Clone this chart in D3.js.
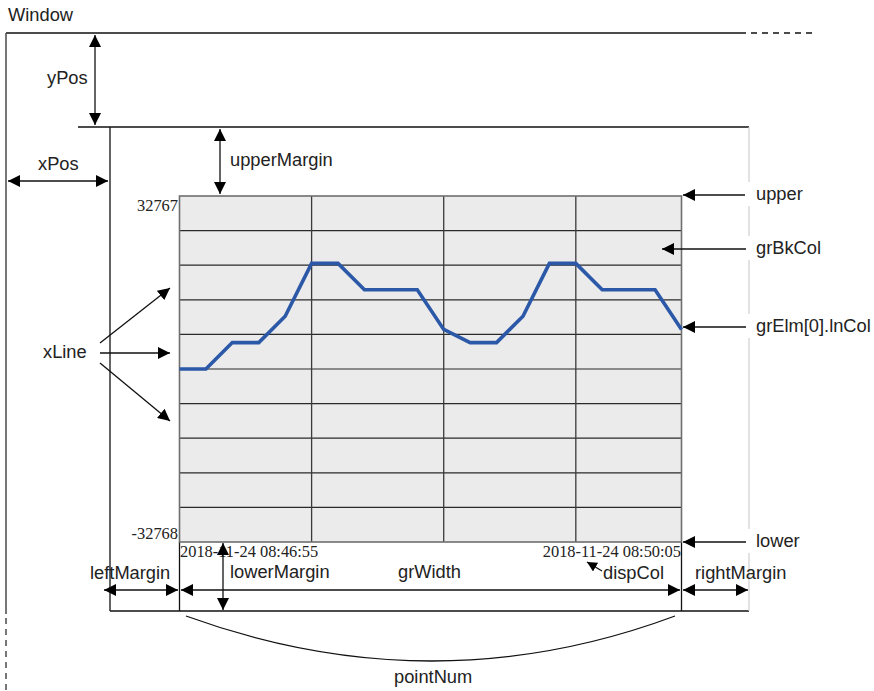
<!DOCTYPE html>
<html><head><meta charset="utf-8">
<script src="https://cdn.jsdelivr.net/npm/d3@7"></script>
<style>
html,body{margin:0;padding:0;background:#fff;}
svg{display:block;}
.lbl{font-family:"Liberation Sans",Arial,sans-serif;font-size:18.3px;fill:#222;}
.tick{font-family:"Liberation Serif","Times New Roman",serif;font-size:16.4px;fill:#222;}
</style></head>
<body>
<svg id="c" width="874" height="691"></svg>
<script>
// ---- data ----
const startTime = "2018-11-24 08:46:55";
const stepSeconds = [0,10,20,30,40,50,60,70,80,90,100,110,120,130,140,150,160,170,180,190];
const values = [0,0,5000,5000,10000,20000,20000,15000,15000,15000,7500,5000,5000,10000,20000,20000,15000,15000,15000,7500];
const yDomain = [-32768, 32767];
const yTickLabels = ["32767", "-32768"];
const xTickLabels = ["2018-11-24 08:46:55", "2018-11-24 08:50:05"];
const hGridCount = 10;
const vGridSeconds = [50, 100, 150];

const parse = d3.timeParse("%Y-%m-%d %H:%M:%S");
const t0 = parse(startTime);
const times = stepSeconds.map(s => new Date(t0.getTime() + s*1000));

const svg = d3.select("#c");
const P = {l:179.5, r:681.5, t:196, b:542};

const x = d3.scaleTime().domain([times[0], times[times.length-1]]).range([P.l, P.r]);
const y = d3.scaleLinear().domain(yDomain).range([P.b, P.t]);

// markers
const defs = svg.append("defs");
defs.append("marker").attr("id","ah").attr("viewBox","0 0 10 10").attr("refX",10).attr("refY",5)
  .attr("markerWidth",12).attr("markerHeight",12).attr("markerUnits","userSpaceOnUse").attr("orient","auto-start-reverse")
  .append("path").attr("d","M0,0 L10,5 L0,10 Z").attr("fill","#000");
defs.append("marker").attr("id","ahs").attr("viewBox","0 0 10 10").attr("refX",10).attr("refY",5)
  .attr("markerWidth",10).attr("markerHeight",10).attr("markerUnits","userSpaceOnUse").attr("orient","auto-start-reverse")
  .append("path").attr("d","M0,0 L10,5 L0,10 Z").attr("fill","#000");

function line(x1,y1,x2,y2,opt={}){
  const l = svg.append("line").attr("x1",x1).attr("y1",y1).attr("x2",x2).attr("y2",y2)
    .attr("stroke",opt.c||"#111").attr("stroke-width",opt.w||1.3);
  if(opt.dash) l.attr("stroke-dasharray",opt.dash);
  if(opt.end) l.attr("marker-end","url(#"+opt.end+")");
  if(opt.start) l.attr("marker-start","url(#"+opt.start+")");
  return l;
}
function text(s,x0,y0,anchor,cls){
  return svg.append("text").attr("class",cls||"lbl").attr("x",x0).attr("y",y0).attr("text-anchor",anchor||"start").text(s);
}

// ---- window frame ----
line(6,33,740,33,{c:"#111"});
line(740,33,812,33,{c:"#111",dash:"6,5"});
line(6,33,6,614,{c:"#555",w:1.6});
line(6,618,6,690,{c:"#555",w:1.6,dash:"6,5"});
text("Window",8,21);

// ---- inner frame ----
line(78,127,749,127);
line(110,127,110,611);
line(110,611,749,611);
line(749,127,749,611,{c:"#cfcfcf",w:1.2});
line(P.l,P.b,P.l,611);
line(P.r,P.b,P.r,611);

// ---- plot ----
const g = svg.append("g");
g.append("rect").attr("x",P.l).attr("y",P.t).attr("width",P.r-P.l).attr("height",P.b-P.t).attr("fill","#ebebeb");
const yGrid = d3.range(1,hGridCount).map(i => yDomain[0] + (yDomain[1]-yDomain[0])*i/hGridCount);
g.selectAll(".hg").data(yGrid).join("line").attr("x1",P.l).attr("x2",P.r)
  .attr("y1",d=>y(d)).attr("y2",d=>y(d)).attr("stroke","#2a2a2a").attr("stroke-width",1.2);
g.selectAll(".vg").data(vGridSeconds).join("line")
  .attr("x1",d=>x(new Date(t0.getTime()+d*1000))).attr("x2",d=>x(new Date(t0.getTime()+d*1000)))
  .attr("y1",P.t).attr("y2",P.b).attr("stroke","#3a3a3a").attr("stroke-width",1.3);
g.append("rect").attr("x",P.l).attr("y",P.t).attr("width",P.r-P.l).attr("height",P.b-P.t)
  .attr("fill","none").attr("stroke","#6e6e6e").attr("stroke-width",1.6);
g.append("path").datum(values.map((v,i)=>[times[i],v]))
  .attr("d", d3.line().x(d=>x(d[0])).y(d=>y(d[1])))
  .attr("fill","none").attr("stroke","#2c58a8").attr("stroke-width",3.6).attr("stroke-linejoin","miter");

// tick labels
text(yTickLabels[0],178,211,"end","tick");
text(yTickLabels[1],178,539,"end","tick");
text(xTickLabels[0],180,557,"start","tick");
text(xTickLabels[1],681,557,"end","tick");

// ---- dimension arrows ----
line(95,35,95,125,{start:"ah",end:"ah"});
text("yPos",47,84);
line(8,181,108,181,{start:"ah",end:"ah"});
text("xPos",38,170);
line(220,129,220,194,{start:"ah",end:"ah"});
text("upperMargin",230,166);

// right labels with white backing to break the gray line
function rlabel(s,yb){
  svg.append("rect").attr("x",746).attr("y",yb-18).attr("width",6).attr("height",24).attr("fill","#fff");
  text(s,756,yb);
}
line(745,195,683,195,{end:"ah"}); rlabel("upper",200);
line(748,249,662,249,{end:"ah"}); rlabel("grBkCol",254);
line(748,327,683,327,{end:"ah"}); rlabel("grElm[0].lnCol",332);
line(749,542,683,542,{end:"ah"}); rlabel("lower",547);

// bottom arrows
line(104,590,178,590,{start:"ah",end:"ah"});
text("leftMargin",90,579);
line(181,590,680,590,{start:"ah",end:"ah"});
text("grWidth",398,578);
line(683,590,748,590,{start:"ah",end:"ah"});
text("rightMargin",695,579);
line(223,543,223,610,{start:"ah",end:"ah"});
text("lowerMargin",230,578);
line(602,571,587,562,{end:"ahs"});
text("dispCol",603,579);

// xLine arrows
line(100,343,170,288,{end:"ah"});
line(100,353,170,353,{end:"ah"});
line(100,363,170,421,{end:"ah"});
text("xLine",43,358);

// pointNum brace
svg.append("path").attr("d","M186,616 Q433,706 675,616").attr("fill","none").attr("stroke","#111").attr("stroke-width",1.3);
text("pointNum",394,683);
</script>
</body></html>
